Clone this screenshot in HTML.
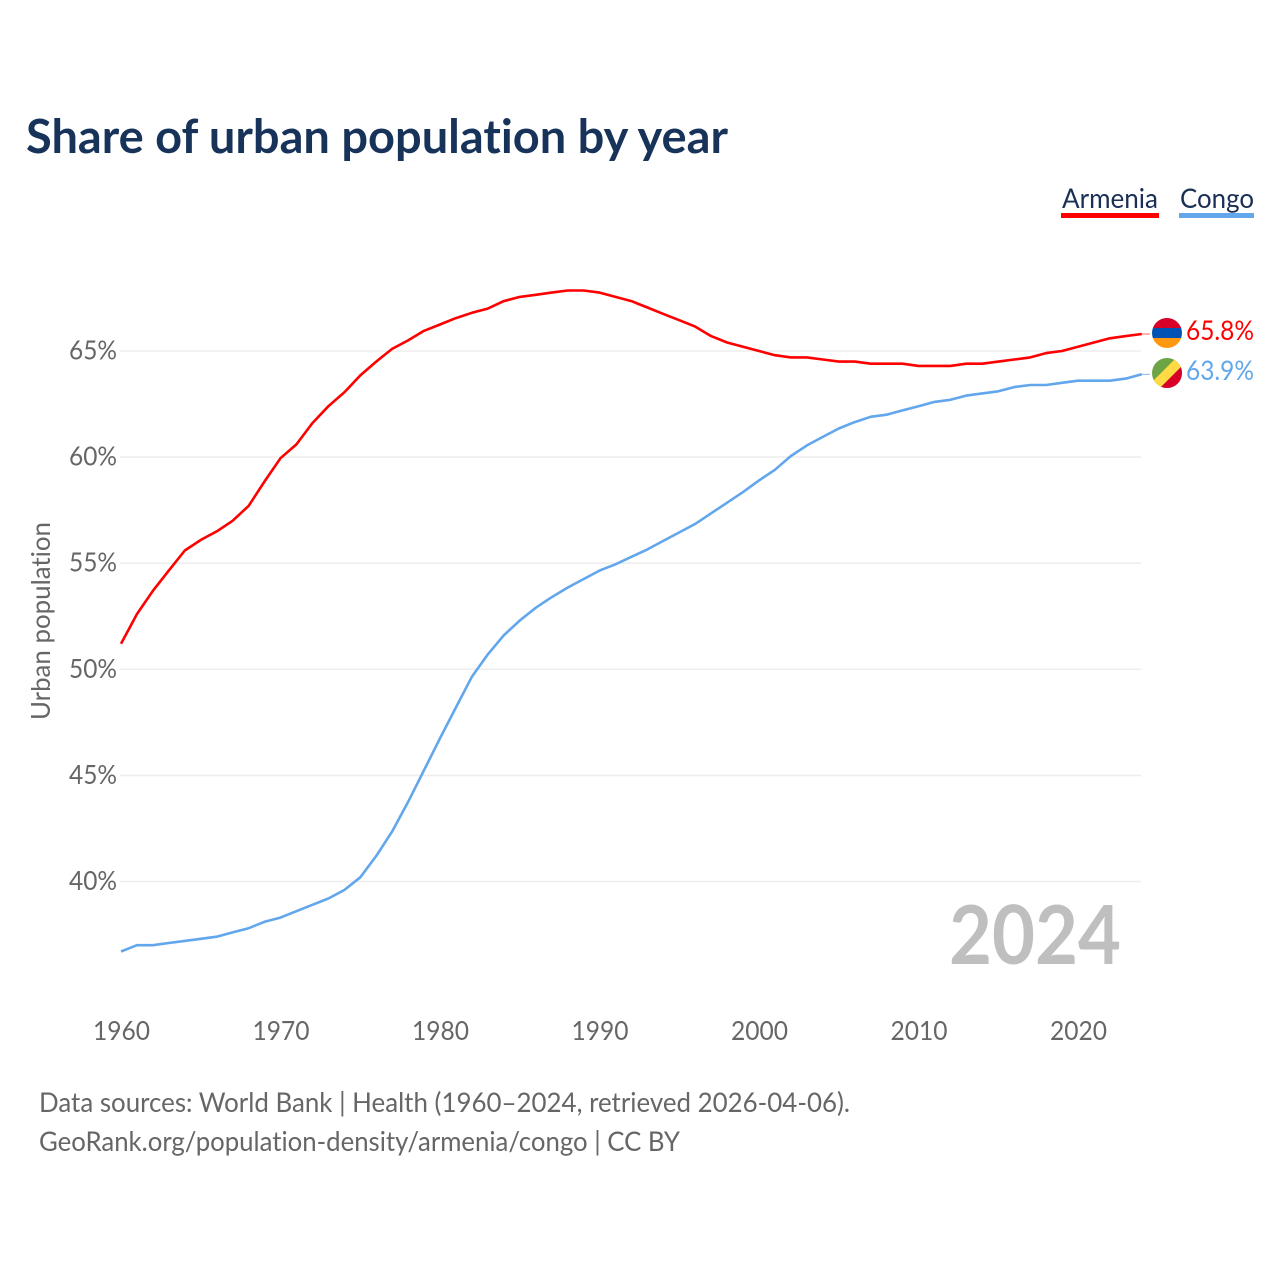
<!DOCTYPE html>
<html lang="en">
<head>
<meta charset="utf-8">
<title>Share of urban population by year</title>
<style>
html,body{margin:0;padding:0;background:#fff;}
svg{display:block;}
text{font-family:"Lato","Carlito","Liberation Sans",sans-serif;font-variant-ligatures:none;}
</style>
</head>
<body>
<svg id="chart" width="1280" height="1280" viewBox="0 0 1280 1280" xmlns="http://www.w3.org/2000/svg">
  <defs>
    <clipPath id="clip-am"><circle cx="1167" cy="333" r="15"/></clipPath>
    <clipPath id="clip-cg"><circle cx="1167" cy="373" r="15"/></clipPath>
  </defs>
  <rect width="1280" height="1280" fill="#fff"/>
  <text x="26" y="153" font-size="47" font-weight="700" fill="#17335a" textLength="702" lengthAdjust="spacingAndGlyphs">Share of urban population by year</text>

  <g>
    <text x="1062" y="208" font-size="27.5" fill="#1a2f55" textLength="96" lengthAdjust="spacingAndGlyphs">Armenia</text>
    <rect x="1061" y="213" width="98" height="5" fill="#ff0000"/>
  </g>
  <g>
    <text x="1180" y="208" font-size="27.5" fill="#1a2f55" textLength="74" lengthAdjust="spacingAndGlyphs">Congo</text>
    <rect x="1179" y="213" width="75" height="5" fill="#62a6ec"/>
  </g>

  <g id="grid"></g>
  <g id="y-ticks"></g>
  <g id="x-ticks"></g>
  <text transform="translate(50,621) rotate(-90)" text-anchor="middle" font-size="26.5" fill="#666" textLength="198" lengthAdjust="spacingAndGlyphs">Urban population</text>

  <g id="series"></g>

  <g clip-path="url(#clip-am)">
    <rect x="1152" y="318" width="30" height="10" fill="#d80027"/>
    <rect x="1152" y="328" width="30" height="10" fill="#0052b4"/>
    <rect x="1152" y="338" width="30" height="10" fill="#ff9811"/>
  </g>
  <g clip-path="url(#clip-cg)">
    <rect x="1152" y="358" width="30" height="30" fill="#6da544"/>
    <polygon points="1176,358 1182,358 1182,366 1160,388 1152,388 1152,382" fill="#ffda44"/>
    <polygon points="1182,366 1182,388 1160,388" fill="#d80027"/>
  </g>
  <text id="label-am" x="1254" y="340" text-anchor="end" font-size="27" fill="#ff0000" textLength="68" lengthAdjust="spacingAndGlyphs"></text>
  <text id="label-cg" x="1254" y="380" text-anchor="end" font-size="27" fill="#62a6ec" textLength="68" lengthAdjust="spacingAndGlyphs"></text>

  <text x="1121" y="964" text-anchor="end" font-size="81" font-weight="700" fill="#bfbfbf" textLength="172" lengthAdjust="spacingAndGlyphs">2024</text>

  <text x="39" y="1112" font-size="27.5" fill="#666" textLength="811" lengthAdjust="spacingAndGlyphs">Data sources: World Bank | Health (1960–2024, retrieved 2026-04-06).</text>
  <text x="39" y="1151" font-size="27.5" fill="#666" textLength="641" lengthAdjust="spacingAndGlyphs">GeoRank.org/population-density/armenia/congo | CC BY</text>
</svg>
<script>
var firstYear = 1960;
var armeniaValues = [51.2,52.6,53.7,54.65,55.6,56.1,56.5,57.0,57.7,58.85,59.95,60.6,61.6,62.4,63.05,63.85,64.5,65.1,65.5,65.95,66.25,66.55,66.8,67.0,67.35,67.55,67.65,67.75,67.85,67.85,67.75,67.55,67.35,67.05,66.75,66.45,66.15,65.7,65.4,65.2,65.0,64.8,64.7,64.7,64.6,64.5,64.5,64.4,64.4,64.4,64.3,64.3,64.3,64.4,64.4,64.5,64.6,64.7,64.9,65.0,65.2,65.4,65.6,65.7,65.8];
var congoValues = [36.7,37.0,37.0,37.1,37.2,37.3,37.4,37.6,37.8,38.1,38.3,38.6,38.9,39.2,39.6,40.2,41.2,42.35,43.75,45.25,46.75,48.2,49.65,50.7,51.6,52.3,52.9,53.4,53.85,54.25,54.65,54.95,55.3,55.65,56.05,56.45,56.85,57.35,57.85,58.35,58.9,59.4,60.05,60.55,60.95,61.35,61.65,61.9,62.0,62.2,62.4,62.6,62.7,62.9,63.0,63.1,63.3,63.4,63.4,63.5,63.6,63.6,63.6,63.7,63.9];
var yTickValues = [40,45,50,55,60,65];
var xTickYears = [1960,1970,1980,1990,2000,2010,2020];

var NS = 'http://www.w3.org/2000/svg';
function xScale(year){ return 121 + (year - 1960) * 15.95; }
function yScale(v){ return 881.5 - (v - 40) * 21.22; }
function make(tag, attrs, parent){
  var el = document.createElementNS(NS, tag);
  for (var k in attrs) el.setAttribute(k, attrs[k]);
  parent.appendChild(el);
  return el;
}

var gridG = document.getElementById('grid');
var yG = document.getElementById('y-ticks');
yTickValues.forEach(function(v){
  var line = make('line', {x1:120, x2:1141, y1:yScale(v), y2:yScale(v), stroke:'#eeeeee', 'stroke-width':1.6}, gridG);
  
  
  var t = make('text', {x:117, y:yScale(v)+8.5, 'text-anchor':'end', 'font-size':26.5, fill:'#666', textLength:48, lengthAdjust:'spacingAndGlyphs'}, yG);
  
  
  t.textContent = v + '%';
});

var xG = document.getElementById('x-ticks');
xTickYears.forEach(function(year){
  var t = make('text', {x:xScale(year)+0.5, y:1040, 'text-anchor':'middle', 'font-size':26.5, fill:'#666', textLength:57, lengthAdjust:'spacingAndGlyphs'}, xG);
  
  
  t.textContent = year;
});

function pathFrom(values){
  return values.map(function(v, i){
    return (i ? 'L' : 'M') + xScale(firstYear + i).toFixed(1) + ' ' + yScale(v).toFixed(1);
  }).join(' ');
}
var seriesG = document.getElementById('series');

var amPath = make('path', {d:pathFrom(armeniaValues), fill:'none', stroke:'#ff0000', 'stroke-width':2.6, 'stroke-linejoin':'round'}, seriesG);


var cgPath = make('path', {d:pathFrom(congoValues), fill:'none', stroke:'#62a6ec', 'stroke-width':2.6, 'stroke-linejoin':'round'}, seriesG);



var lastAm = armeniaValues[armeniaValues.length - 1];
var lastCg = congoValues[congoValues.length - 1];
var lastX = xScale(firstYear + armeniaValues.length - 1);
var amLink = make('line', {x1:lastX, x2:1150, y1:yScale(lastAm), y2:yScale(lastAm), stroke:'#ff0000', 'stroke-width':1, opacity:0.6}, seriesG);


var cgLink = make('line', {x1:lastX, x2:1150, y1:yScale(lastCg), y2:yScale(lastCg), stroke:'#62a6ec', 'stroke-width':1, opacity:0.8}, seriesG);



document.getElementById('label-am').textContent = lastAm.toFixed(1) + '%';
document.getElementById('label-cg').textContent = lastCg.toFixed(1) + '%';
</script>
</body>
</html>
